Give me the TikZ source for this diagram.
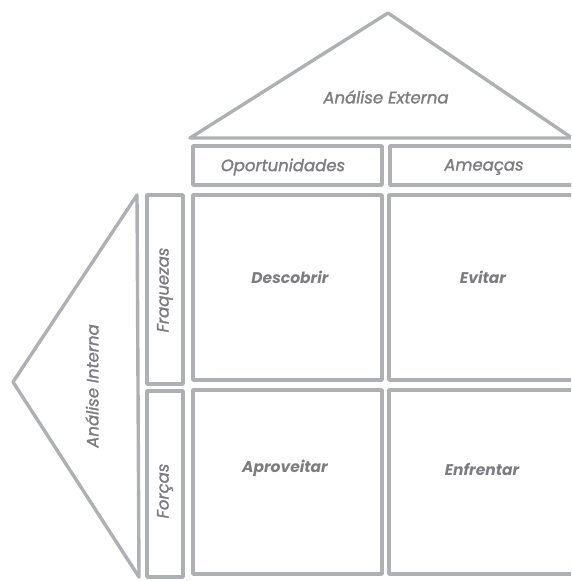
\documentclass[tikz,border=0pt]{standalone}
\usepackage{fontspec}
\setmainfont{Poppins}[ItalicFeatures={FakeBold=1.5}]
\definecolor{linegray}{HTML}{AEB0B3}
\definecolor{textgray}{HTML}{7C7C81}
\begin{document}
\begin{tikzpicture}[x=1pt,y=-1pt,
  sketch/.style={draw=linegray,line width=3.4pt,line join=round,line cap=round},
  lbl/.style={text=textgray,font=\itshape\fontsize{16.5}{18}\selectfont,inner sep=0pt},
  blbl/.style={text=textgray,font=\bfseries\itshape\fontsize{15.5}{18}\selectfont,inner sep=0pt}]
\useasboundingbox (0,0) rectangle (571,581);
\clip (0,0) rectangle (571,581);
% external roof
\draw[sketch] (190,138) -- (388,13) -- (572,138) -- cycle;
\node[lbl] (extern) at (386,97) {Análise Externa};
% internal wall
\draw[sketch] (137,195) -- (13,382) -- (139,577) -- cycle;
\node[lbl,rotate=90] (intern) at (92,386) {Análise Interna};
% header boxes
\draw[sketch] (193,146) rectangle (382,185);
\draw[sketch] (390,146) rectangle (600,185);
\node[lbl] (oport) at (283,167) {Oportunidades};
\node[lbl] (ameac) at (484,167) {Ameaças};
% side boxes
\draw[sketch] (147,195) rectangle (183,384);
\draw[sketch] (147,391) rectangle (183,577);
\node[lbl,rotate=90] (fraq) at (165,290) {Fraquezas};
\node[lbl,rotate=90] (forc) at (165,491) {Forças};
% matrix boxes
\draw[sketch] (193,195) rectangle (382,380);
\draw[sketch] (389,195) rectangle (600,380);
\draw[sketch] (193,390) rectangle (382,574);
\draw[sketch] (389,390) rectangle (600,574);
\node[blbl] (desc) at (290,277) {Descobrir};
\node[blbl] (evit) at (483,277) {Evitar};
\node[blbl] (aprov) at (285,468) {Aproveitar};
\node[blbl] (enfr) at (482,469) {Enfrentar};
\end{tikzpicture}
\end{document}
